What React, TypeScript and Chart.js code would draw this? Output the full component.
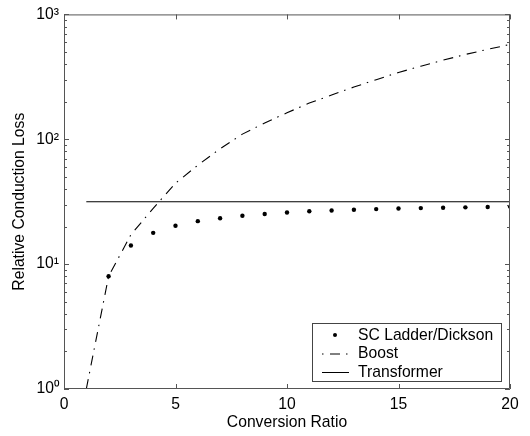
import React, { useEffect, useRef } from "react";
import { Chart, registerables } from "chart.js";

Chart.register(...registerables);

// ---- data ----
const scRatios = [2, 3, 4, 5, 6, 7, 8, 9, 10, 11, 12, 13, 14, 15, 16, 17, 18, 19, 20];
const scLoss = [8.0, 14.1, 17.8, 20.3, 22.1, 23.3, 24.4, 25.2, 25.9, 26.5, 26.9, 27.3, 27.6, 27.9, 28.1, 28.3, 28.5, 28.7, 28.9];

const boostRatios = [1, 2, 3, 4, 5, 6, 7, 8, 9, 10, 11, 12, 13, 14, 15, 16, 17, 18, 19, 20];
const boostLoss = [1, 8, 17.2, 28, 44.5, 62, 84, 110, 135, 163, 195, 226, 262, 300, 343, 385, 430, 478, 525, 575];

const transformerRatios = [1, 20];
const transformerLoss = [31.6, 31.6];

const seriesLabels = ["SC Ladder/Dickson", "Boost", "Transformer"];

const xTickValues = [0, 5, 10, 15, 20];
const yTickValues = [1, 10, 100, 1000];
const yTickLabels = ["10\u2070", "10\u00B9", "10\u00B2", "10\u00B3"];

const xTitle = "Conversion Ratio";
const yTitle = "Relative Conduction Loss";

const FONT = "'Liberation Sans', Arial, Helvetica, sans-serif";
const FS = 15.7;
const BOOST_DASH = [10, 6, 1.5, 6.5];

const framePlugin = {
  id: "frame",
  afterDraw(chart: any) {
    const { ctx, chartArea } = chart;
    const { left, right, top, bottom } = chartArea;
    const xs = chart.scales.x;
    const ys = chart.scales.y;
    ctx.save();
    ctx.strokeStyle = "#555";
    ctx.lineWidth = 1;
    ctx.beginPath();
    ctx.rect(left + 0.5, top + 0.5, right - left - 1, bottom - top - 1);
    ctx.stroke();

    // x ticks (inside, bottom and top)
    ctx.beginPath();
    xTickValues.forEach((v) => {
      const px = Math.round(xs.getPixelForValue(v)) + 0.5;
      ctx.moveTo(px, bottom);
      ctx.lineTo(px, bottom - 5);
      ctx.moveTo(px, top);
      ctx.lineTo(px, top + 5);
    });
    // y major + minor ticks (inside, left and right)
    for (let k = 0; k < 3; k++) {
      for (let m = 1; m <= 10; m++) {
        const v = m * Math.pow(10, k);
        const py = Math.round(ys.getPixelForValue(v)) + 0.5;
        const len = m === 1 || m === 10 ? 5 : 3;
        ctx.moveTo(left, py);
        ctx.lineTo(left + len, py);
        ctx.moveTo(right, py);
        ctx.lineTo(right - len, py);
      }
    }
    ctx.stroke();

    // legend
    const lx0 = 312, ly0 = 323, lx1 = 502, ly1 = 382;
    ctx.fillStyle = "#fff";
    ctx.fillRect(lx0, ly0, lx1 - lx0, ly1 - ly0);
    ctx.strokeStyle = "#444";
    ctx.strokeRect(lx0 + 0.5, ly0 + 0.5, lx1 - lx0 - 1, ly1 - ly0 - 1);

    const rows = [335, 353.5, 372];
    ctx.font = FS + "px " + FONT;
    ctx.fillStyle = "#000";
    ctx.textBaseline = "middle";
    ctx.textAlign = "left";
    seriesLabels.forEach((lab, i) => {
      const y = rows[i];
      ctx.fillStyle = "#000";
      ctx.fillText(lab, 358, y + 0.5);
      ctx.strokeStyle = "#000";
      ctx.lineWidth = 1;
      if (i === 0) {
        ctx.beginPath();
        ctx.arc(335, y, 2, 0, Math.PI * 2);
        ctx.fill();
      } else if (i === 1) {
        ctx.beginPath();
        ctx.setLineDash(BOOST_DASH);
        ctx.lineDashOffset = 16;
        ctx.moveTo(322, y + 0.5);
        ctx.lineTo(349, y + 0.5);
        ctx.stroke();
        ctx.setLineDash([]);
      } else {
        ctx.beginPath();
        ctx.moveTo(322, y + 0.5);
        ctx.lineTo(349, y + 0.5);
        ctx.stroke();
      }
    });
    ctx.restore();
  },
};

export default function App() {
  const ref = useRef<HTMLCanvasElement | null>(null);

  useEffect(() => {
    document.body.style.margin = "0";
    const canvas = ref.current;
    if (!canvas) return;
    const chart = new Chart(canvas, {
      type: "line",
      data: {
        datasets: [
          {
            label: seriesLabels[0],
            data: scRatios.map((x, i) => ({ x, y: scLoss[i] })),
            showLine: false,
            pointRadius: 2.2,
            pointBackgroundColor: "#000",
            pointBorderColor: "#000",
            pointBorderWidth: 0,
            borderColor: "#000",
          },
          {
            label: seriesLabels[1],
            data: boostRatios.map((x, i) => ({ x, y: boostLoss[i] })),
            borderColor: "#000",
            borderWidth: 1.1,
            borderDash: BOOST_DASH,
            pointRadius: 0,
            tension: 0,
            fill: false,
          },
          {
            label: seriesLabels[2],
            data: transformerRatios.map((x, i) => ({ x, y: transformerLoss[i] })),
            borderColor: "#000",
            borderWidth: 1.2,
            pointRadius: 0,
            tension: 0,
            fill: false,
          },
        ],
      },
      options: {
        animation: false,
        responsive: false,
        devicePixelRatio: 1,
        layout: { padding: { left: 0, top: 14, right: 20, bottom: 0 } },
        plugins: {
          legend: { display: false },
          tooltip: { enabled: false },
        },
        scales: {
          x: {
            type: "linear",
            min: 0,
            max: 20,
            grid: { display: false, drawTicks: false },
            border: { display: false },
            afterBuildTicks: (s: any) => {
              s.ticks = xTickValues.map((v) => ({ value: v }));
            },
            afterFit: (s: any) => {
              s.height = 47;
            },
            ticks: {
              color: "#000",
              font: { family: FONT, size: FS },
              padding: 6,
              maxRotation: 0,
              callback: (v: any) => String(v),
            },
            title: {
              display: true,
              text: xTitle,
              color: "#000",
              font: { family: FONT, size: FS },
              padding: { top: 0, bottom: 3.6 },
            },
          },
          y: {
            type: "logarithmic",
            min: 1,
            max: 1000,
            grid: { display: false, drawTicks: false },
            border: { display: false },
            afterBuildTicks: (s: any) => {
              s.ticks = yTickValues.map((v) => ({ value: v }));
            },
            afterFit: (s: any) => {
              s.width = 64;
            },
            ticks: {
              color: "#000",
              font: { family: FONT, size: FS },
              padding: 5,
              callback: (v: any) => {
                const i = yTickValues.indexOf(Number(v));
                return i >= 0 ? yTickLabels[i] : "";
              },
            },
            title: {
              display: true,
              text: yTitle,
              color: "#000",
              font: { family: FONT, size: FS },
              padding: { top: 10.6, bottom: 0 },
            },
          },
        },
      },
      plugins: [framePlugin],
    } as any);
    return () => chart.destroy();
  }, []);

  return (
    <div style={{ width: 530, height: 436 }}>
      <canvas ref={ref} width={530} height={436} style={{ display: "block" }} />
    </div>
  );
}
